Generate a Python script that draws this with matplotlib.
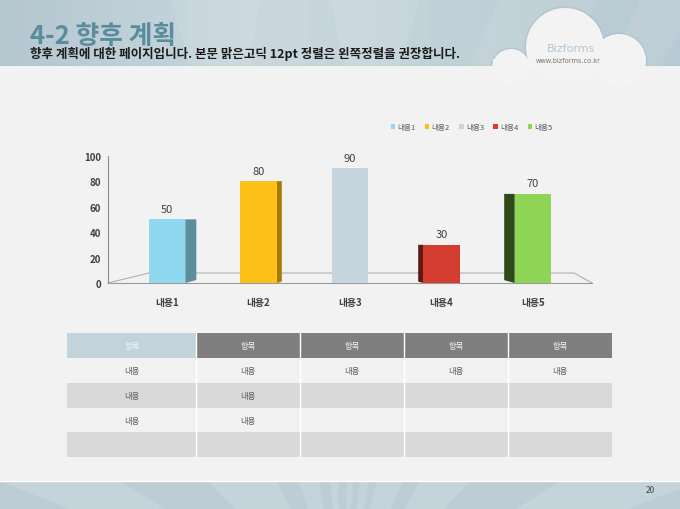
import matplotlib
matplotlib.use('Agg')
import matplotlib.pyplot as plt
from matplotlib.patches import Rectangle, Circle, Polygon, Patch
from matplotlib.colors import LinearSegmentedColormap
import numpy as np

plt.rcParams['font.family'] = ['Noto Sans CJK KR', 'DejaVu Sans']

# chart data
categories = ['내용1', '내용2', '내용3', '내용4', '내용5']
values = [50, 80, 90, 30, 70]
y_ticks = [0, 20, 40, 60, 80, 100]

face_colors = ['#8ed8f0', '#fec11a', '#c7d6de', '#d63d31', '#8fd555']
side_colors = ['#5b8d9d', '#a67c00', '#b5c5ce', '#5c1a12', '#2e4a1a']
side_dir = [1, 1, 0, -1, -1]      # which side of the bar shows (3D look)
side_px = [11, 5, 0, 5, 10.5]     # visible depth of that side, pixels

# table data
table_header = ['항목', '항목', '항목', '항목', '항목']
table_rows = [
    ['내용', '내용', '내용', '내용', '내용'],
    ['내용', '내용', '', '', ''],
    ['내용', '내용', '', '', ''],
    ['', '', '', '', ''],
]

title = '4-2 향후 계획'
subtitle = '향후 계획에 대한 페이지입니다. 본문 맑은고딕 12pt 정렬은 왼쪽정렬을 권장합니다.'
page_no = '20'

W, H = 680, 510
fig = plt.figure(figsize=(6.8, 5.1), dpi=100)
fig.patch.set_facecolor('#f2f2f2')


def px_axes(x0, y0, x1, y1):
    # axes placed by pixel box (top-left origin)
    return fig.add_axes([x0 / W, 1 - y1 / H, (x1 - x0) / W, (y1 - y0) / H])


# ---- slide background ----
bg = fig.add_axes([0, 0, 1, 1])
bg.set_xlim(0, W)
bg.set_ylim(H, 0)
bg.axis('off')

head_cmap = LinearSegmentedColormap.from_list(
    'head', ['#b4c6cf', '#bfd0d8', '#cad8de', '#c3d3da', '#bccdd5', '#b8cad3'])
grad = np.linspace(0, 1, 256).reshape(1, -1)
bg.imshow(grad, cmap=head_cmap, extent=(0, W, 67, 0), aspect='auto', zorder=0)
# soft rays in header
for xa, xb, xc, xd in [(170, 260, 250, 190), (330, 420, 400, 345),
                       (500, 600, 560, 470), (640, 700, 660, 610)]:
    bg.add_patch(Polygon([(xa, 0), (xb, 0), (xc, 67), (xd, 67)],
                         closed=True, fc='white', alpha=0.09, lw=0, zorder=1))

cloud = [(565, 48, 39), (619, 62, 27), (511, 69, 19)]
# cloud shadow (only shows inside the header band)
for (ccx, ccy, r) in cloud:
    bg.add_patch(Circle((ccx, ccy), r + 1.5, fc='#a9bbc4', alpha=0.5, lw=0,
                        zorder=1.5))
bg.plot([0, W], [66.5, 66.5], color='#a9bac2', lw=1, zorder=1.6)

# body
bg.add_patch(Rectangle((0, 67), W, 415, fc='#f2f2f2', lw=0, zorder=2))

# bottom band with rays
bg.add_patch(Rectangle((0, 482), W, 28, fc='#bccdd5', lw=0, zorder=2))
cx, cy = 343, 620
for xa, xb in [(0, 120), (208, 277), (299, 319), (330, 338), (347, 353),
               (360, 369), (377, 403), (420, 470), (560, 700)]:
    t0 = (482 - cy) / (510 - cy)
    pts = [(xa, 482), (xb, 482),
           (cx + (xb - cx) / t0, 510), (cx + (xa - cx) / t0, 510)]
    bg.add_patch(Polygon(pts, closed=True, fc='white', alpha=0.14, lw=0,
                         zorder=3))
bg.plot([0, W], [482, 482], color='#ffffff', lw=1, zorder=4)

# cloud logo
for (ccx, ccy, r) in cloud:
    bg.add_patch(Circle((ccx, ccy), r, fc='#f3f3f3', lw=0, zorder=6))
bg.add_patch(Rectangle((493, 60), 152, 10, fc='#f3f3f3', lw=0, zorder=6))
bg.text(571, 49, 'Bizforms', fontsize=8, color='#b4c6d2', ha='center',
        va='center', family=['DejaVu Sans'], zorder=7)
bg.text(568, 61, 'www.bizforms.co.kr', fontsize=4.8, color='#777777',
        ha='center', va='center', family=['DejaVu Sans'], zorder=7)

bg.text(30, 36, title, fontsize=18.5, weight='bold', color='#5a8c9c',
        va='center', zorder=7)
bg.text(30, 54, subtitle, fontsize=9, weight='bold', color='#1a1a1a',
        va='center', zorder=7)
bg.text(650, 491, page_no, fontsize=6, color='#444444', ha='center',
        va='center', zorder=7)

# ---- bar chart ----
ax = px_axes(108, 156.7, 592, 284)
ax.patch.set_alpha(0)
x = np.arange(len(categories))
bar_w = 0.4
px_per_x = 91.5
px_per_y = 127.3 / 100

ax.bar(x, values, width=bar_w, color=face_colors, zorder=3)
for i, v in enumerate(values):
    if side_dir[i] != 0:
        d = side_px[i] / px_per_x * side_dir[i]
        rise = side_px[i] * 0.27 / px_per_y
        xe = x[i] + side_dir[i] * bar_w / 2
        ax.add_patch(Polygon([(xe, 0), (xe + d, rise), (xe + d, v), (xe, v)],
                             closed=True, fc=side_colors[i], lw=0, zorder=2))
    ax.annotate(str(v), (x[i], v), xytext=(0, 7.5), textcoords='offset points',
                ha='center', va='center', fontsize=8, color='#404040')

# floor of the 3D box
back = 10 / px_per_y
ax.plot([-0.645, -0.197, 4.448, 4.645], [0, back, back, 0],
        color='#b0b0b0', lw=0.8, clip_on=False, zorder=1)

ax.set_xlim(-0.645, 4.645)
ax.set_ylim(0, 100)
ax.set_yticks(y_ticks)
ax.set_xticks(x, categories)
ax.tick_params(axis='y', length=0, pad=5, labelsize=7, labelcolor='#404040')
ax.tick_params(axis='x', length=0, pad=10, labelsize=7, labelcolor='#404040')
for lab in ax.get_xticklabels() + ax.get_yticklabels():
    lab.set_fontweight('bold')
for s in ['top', 'right']:
    ax.spines[s].set_visible(False)
ax.spines['left'].set_color('#8c8c8c')
ax.spines['left'].set_linewidth(0.8)
ax.spines['bottom'].set_color('#9a9a9a')
ax.spines['bottom'].set_linewidth(0.8)

handles = [Patch(fc=c, lw=0) for c in face_colors]
leg = ax.legend(handles, categories, loc='center', ncol=5,
                bbox_to_anchor=(471.7 / W, 1 - 128.3 / H),
                bbox_transform=fig.transFigure, fontsize=5.5, frameon=False,
                handlelength=0.6, handleheight=0.6, handletextpad=0.3,
                columnspacing=1.2)
for t in leg.get_texts():
    t.set_color('#595959')

# ---- table ----
tax = px_axes(67.3, 334, 612, 458.3)
tax.axis('off')
col_w = [1.24, 1, 1, 1, 1]
edges = np.concatenate([[0], np.cumsum(col_w)])
n_rows = len(table_rows) + 1
tax.set_xlim(0, edges[-1])
tax.set_ylim(n_rows, 0)

for j, h in enumerate(table_header):
    fc = '#c3d3dc' if j == 0 else '#7f7f7f'
    tax.add_patch(Rectangle((edges[j], 0), col_w[j], 1, fc=fc, lw=0))
    tax.text((edges[j] + edges[j + 1]) / 2, 0.5, h, ha='center', va='center',
             fontsize=6, color='#f4f4f4')
for r, row in enumerate(table_rows):
    fc = '#f2f2f2' if r % 2 == 0 else '#d9d9d9'
    tax.add_patch(Rectangle((0, r + 1), edges[-1], 1, fc=fc, lw=0))
    for j, cell in enumerate(row):
        tax.text((edges[j] + edges[j + 1]) / 2, r + 1.5, cell, ha='center',
                 va='center', fontsize=6, color='#595959')
for e in edges[1:-1]:
    tax.plot([e, e], [0, n_rows], color='white', lw=1)

fig.savefig('out.png', dpi=100, facecolor=fig.get_facecolor())
